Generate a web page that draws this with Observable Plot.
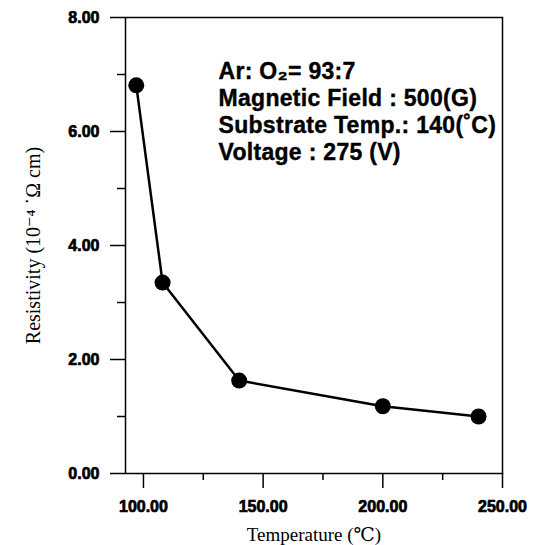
<!DOCTYPE html>
<html>
<head>
<meta charset="utf-8">
<script src="https://cdn.jsdelivr.net/npm/d3@7"></script>
<script src="https://cdn.jsdelivr.net/npm/@observablehq/plot@0.6"></script>
<style>
  html, body { margin: 0; padding: 0; background: #fff; }
  #chart svg { display: block; }
  #chart [aria-label="y-axis label"] text,
  #chart [aria-label="x-axis label"] text {
    font-family: "Liberation Serif", "DejaVu Serif", serif;
    font-weight: normal;
  }
  #chart [aria-label="y-axis label"] text { font-size: 20px; }
  #chart [aria-label="x-axis label"] text { font-size: 19px; }
  #chart [aria-label="y-axis tick label"] text,
  #chart [aria-label="x-axis tick label"] text {
    stroke: black; stroke-width: 0.7px;
  }
  #chart .notes text { stroke: black; stroke-width: 0.4px; letter-spacing: 0.3px; }
</style>
</head>
<body>
<div id="chart"></div>
<script>
// Data
const temperature = [97, 108, 140, 200, 240];
const resistivity = [6.81, 3.35, 1.63, 1.18, 1.0];

const xTicks = [100, 150, 200, 250];
const xMinorTicks = [125, 175, 225];
const yTicks = [0, 2, 4, 6, 8];
const yMinorTicks = [1, 3, 5, 7];

const notes = [
  "Ar: O\u2082= 93:7",
  "Magnetic Field : 500(G)",
  "Substrate Temp.: 140(\u02DAC)",
  "Voltage : 275 (V)"
];

const xLabel = "Temperature (\u2103)";
const yLabel = "Resistivity (10\u207B\u2074 \u02D9\u03A9 cm)";

const data = temperature.map((t, i) => ({t, r: resistivity[i]}));
const sans = "'Liberation Sans', Arial, sans-serif";

const chart = Plot.plot({
  width: 544,
  height: 545,
  marginLeft: 125,
  marginRight: 42,
  marginTop: 17,
  marginBottom: 72,
  x: {domain: [92.5, 250]},
  y: {domain: [0, 8]},
  style: {background: "white", color: "black"},
  marks: [
    Plot.frame({stroke: "black", strokeWidth: 1.5}),
    Plot.axisY(yMinorTicks, {tickSize: 8, tickFormat: () => "", label: null, strokeWidth: 1.5}),
    Plot.axisY(yTicks, {
      tickSize: 15, tickPadding: 11, strokeWidth: 1.5,
      tickFormat: d => d.toFixed(2),
      fontSize: 16, fontWeight: "bold", fontFamily: sans,
      label: yLabel, labelAnchor: "center", labelArrow: "none", labelOffset: 100
    }),
    Plot.axisX(xMinorTicks, {tickSize: 7, tickFormat: () => "", label: null, strokeWidth: 1.5}),
    Plot.axisX(xTicks, {
      tickSize: 15, tickPadding: 12, strokeWidth: 1.5,
      tickFormat: d => d.toFixed(2),
      fontSize: 16, fontWeight: "bold", fontFamily: sans,
      label: xLabel, labelAnchor: "center", labelArrow: "none", labelOffset: 67
    }),
    Plot.line(data, {x: "t", y: "r", stroke: "black", strokeWidth: 2.5}),
    Plot.dot(data, {x: "t", y: "r", r: 8, fill: "black", stroke: "none"}),
    Plot.text([notes.join("\n")], {
      className: "notes",
      frameAnchor: "top-left", textAnchor: "start", lineAnchor: "top",
      dx: 93, dy: 42, lineHeight: 1.18,
      fontSize: 23, fontWeight: "bold", fontFamily: sans, fill: "black"
    })
  ]
});

document.getElementById("chart").appendChild(chart);
</script>
</body>
</html>
